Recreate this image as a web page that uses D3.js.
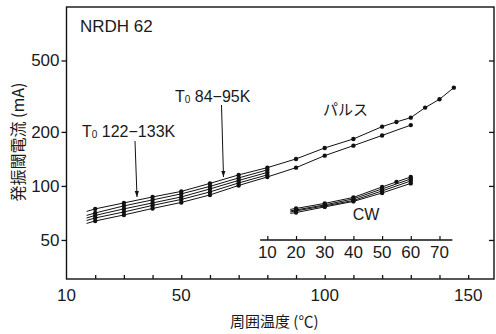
<!DOCTYPE html>
<html>
<head>
<meta charset="utf-8">
<script src="https://cdn.jsdelivr.net/npm/d3@7"></script>
<style>
  body { margin: 0; background: #fff; }
  svg { display: block; }
  text { fill: #1a1a1a; }
</style>
</head>
<body>
<svg id="chart" width="496" height="334"></svg>
<script>
// pulse threshold current (mA) vs ambient temperature (°C)
const pulseTemps = [17, 20, 30, 40, 50, 60, 70, 80];
const pulseHighTemps = [17, 20, 30, 40, 50, 60, 70, 80, 90, 100, 110, 120, 125, 130, 135, 140, 145];
const pulseLowTemps = [17, 20, 30, 40, 50, 60, 70, 80, 90, 100, 110, 120, 130];

const pulseHigh = [72.1, 74.5, 80.4, 86.8, 93.2, 103.3, 115.2, 126.4, 141.4, 162.8, 182.7, 214, 227.3, 240.2, 273.1, 304, 352.8];
const pulseB = [68.5, 70.7, 77.4, 83.6, 90.3, 99.4, 110.8, 122.8];
const pulseC = [66.3, 68.5, 74.5, 80.4, 86.8, 96.2, 107.3, 118.9];
const pulseD = [64.2, 66.3, 71.6, 77.9, 84.1, 92.6, 103.9, 115.2];
const pulseLow = [61.8, 63.8, 68.9, 74.9, 80.9, 89.1, 100.6, 112.2, 126.4, 147.5, 167.7, 191.1, 218.2];

// CW, plotted against the inset temperature axis
const cwTemps = [18, 20, 30, 40, 50, 60];
const cwTempsTop = [18, 20, 30, 40, 50, 55, 60];
const cwA = [74.0, 74.9, 79.9, 86.3, 98.7, 105.3, 112.2];
const cwB = [72.6, 73.5, 78.4, 84.7, 96.2, 109.4];
const cwC = [71.6, 72.6, 77.4, 83.0, 93.8, 106.6];
const cwD = [70.3, 71.1, 76.4, 82.0, 91.4, 103.3];

const yTicks = [50, 100, 200, 500];
const xLabelTicks = [10, 50, 100, 150];
const insetTicks = [10, 20, 30, 40, 50, 60, 70];

const svg = d3.select('#chart');
const font = '"Liberation Sans", Arial, sans-serif';
const jpFont = '"Noto Sans CJK JP", sans-serif';

const x = d3.scaleLinear().domain([10, 159]).range([66.5, 494]);
const y = d3.scaleLog().domain([30.3, 993]).range([279, 7]);
// inset axis: 10..70 sits under main 80..140
const xi = d3.scaleLinear().domain([10, 70]).range([x(80), x(140)]);

// frame
svg.append('rect')
  .attr('x', x(10)).attr('y', y(993))
  .attr('width', x(159) - x(10)).attr('height', y(30.3) - y(993))
  .attr('fill', 'none').attr('stroke', '#111').attr('stroke-width', 1.4);

// left axis (ticks outward)
const left = svg.append('g')
  .attr('transform', `translate(${x(10)},0)`)
  .call(d3.axisLeft(y).tickValues(yTicks).tickSize(5).tickPadding(2).tickFormat(d3.format('d')));
left.select('.domain').remove();
left.selectAll('line').attr('stroke', '#111').attr('stroke-width', 1.3);
left.selectAll('text').attr('font-family', font).attr('font-size', 17).attr('fill', '#1a1a1a');

// right axis (ticks inward)
const right = svg.append('g')
  .attr('transform', `translate(${x(159)},0)`)
  .call(d3.axisLeft(y).tickValues(yTicks).tickSize(5).tickFormat(''));
right.select('.domain').remove();
right.selectAll('line').attr('stroke', '#111').attr('stroke-width', 1.3);

// bottom axis: minor ticks every 10, inward
const bottom = svg.append('g')
  .attr('transform', `translate(0,${y(30.3)})`)
  .call(d3.axisTop(x).tickValues(d3.range(20, 151, 10)).tickSize(4).tickFormat(''));
bottom.select('.domain').remove();
bottom.selectAll('line').attr('stroke', '#111').attr('stroke-width', 1.3);

svg.append('g').selectAll('text')
  .data(xLabelTicks).join('text')
  .attr('x', d => x(d)).attr('y', 301)
  .attr('text-anchor', 'middle')
  .attr('font-family', font).attr('font-size', 17)
  .text(d => d);

// inset axis for CW
const inset = svg.append('g')
  .attr('transform', 'translate(0,240)')
  .call(d3.axisTop(xi).tickValues(insetTicks).tickSize(4).tickFormat(''));
inset.select('.domain').remove();
inset.selectAll('line').attr('stroke', '#111').attr('stroke-width', 1.2);
svg.append('line')
  .attr('x1', xi(7.5)).attr('x2', xi(74.5))
  .attr('y1', 240).attr('y2', 240)
  .attr('stroke', '#111').attr('stroke-width', 1.4);
svg.append('g').selectAll('text')
  .data(insetTicks).join('text')
  .attr('x', d => xi(d)).attr('y', 258)
  .attr('text-anchor', 'middle')
  .attr('font-family', font).attr('font-size', 17)
  .text(d => d);

// series
const pulseSeries = [
  { t: pulseHighTemps, v: pulseHigh },
  { t: pulseTemps, v: pulseB },
  { t: pulseTemps, v: pulseC },
  { t: pulseTemps, v: pulseD },
  { t: pulseLowTemps, v: pulseLow },
];
const cwSeries = [
  { t: cwTempsTop, v: cwA },
  { t: cwTemps, v: cwB },
  { t: cwTemps, v: cwC },
  { t: cwTemps, v: cwD },
];

function drawSeries(list, xs) {
  const line = d3.line().x(d => xs(d[0])).y(d => y(d[1]));
  list.forEach(s => {
    const pts = s.t.map((t, i) => [t, s.v[i]]);
    svg.append('path')
      .attr('d', line(pts))
      .attr('fill', 'none').attr('stroke', '#111').attr('stroke-width', 1);
    // first point is only where the drawn line begins
    svg.append('g').selectAll('circle')
      .data(pts.slice(1)).join('circle')
      .attr('cx', d => xs(d[0])).attr('cy', d => y(d[1]))
      .attr('r', 2.2).attr('fill', '#111');
  });
}
drawSeries(pulseSeries, x);
drawSeries(cwSeries, xi);

// labels
svg.append('text')
  .attr('x', 80).attr('y', 32)
  .attr('font-family', font).attr('font-size', 17)
  .text('NRDH 62');

function t0Label(px, py, range) {
  const t = svg.append('text')
    .attr('x', px).attr('y', py)
    .attr('font-family', font).attr('font-size', 16);
  t.append('tspan').text('T');
  t.append('tspan').attr('font-size', 10).attr('dy', 1).text('0');
  t.append('tspan').attr('dy', -1).text(' ' + range);
}
t0Label(82, 137, '122−133K');
t0Label(175, 102, '84−95K');

svg.append('defs').append('marker')
  .attr('id', 'arrow')
  .attr('viewBox', '0 0 10 10').attr('refX', 10).attr('refY', 5)
  .attr('markerWidth', 6).attr('markerHeight', 8).attr('orient', 'auto')
  .append('path').attr('d', 'M0,1.5 L10,5 L0,8.5 Z').attr('fill', '#111');

svg.append('line')
  .attr('x1', 135).attr('y1', 141).attr('x2', 137).attr('y2', 197)
  .attr('stroke', '#111').attr('stroke-width', 1).attr('marker-end', 'url(#arrow)');
svg.append('line')
  .attr('x1', 221.5).attr('y1', 105).attr('x2', 223.5).attr('y2', 177)
  .attr('stroke', '#111').attr('stroke-width', 1).attr('marker-end', 'url(#arrow)');

svg.append('text')
  .attr('x', 323).attr('y', 115)
  .attr('font-family', jpFont).attr('font-size', 15)
  .text('パルス');

svg.append('text')
  .attr('x', 366).attr('y', 220)
  .attr('text-anchor', 'middle')
  .attr('font-family', font).attr('font-size', 16)
  .text('CW');

// axis titles
svg.append('text')
  .attr('x', 230).attr('y', 327)
  .attr('font-family', jpFont).attr('font-size', 15)
  .text('周囲温度 (℃)');

svg.append('text')
  .attr('transform', 'translate(24,142) rotate(-90)')
  .attr('text-anchor', 'middle')
  .attr('font-family', jpFont).attr('font-size', 16)
  .text('発振閾電流 (mA)');
</script>
</body>
</html>
